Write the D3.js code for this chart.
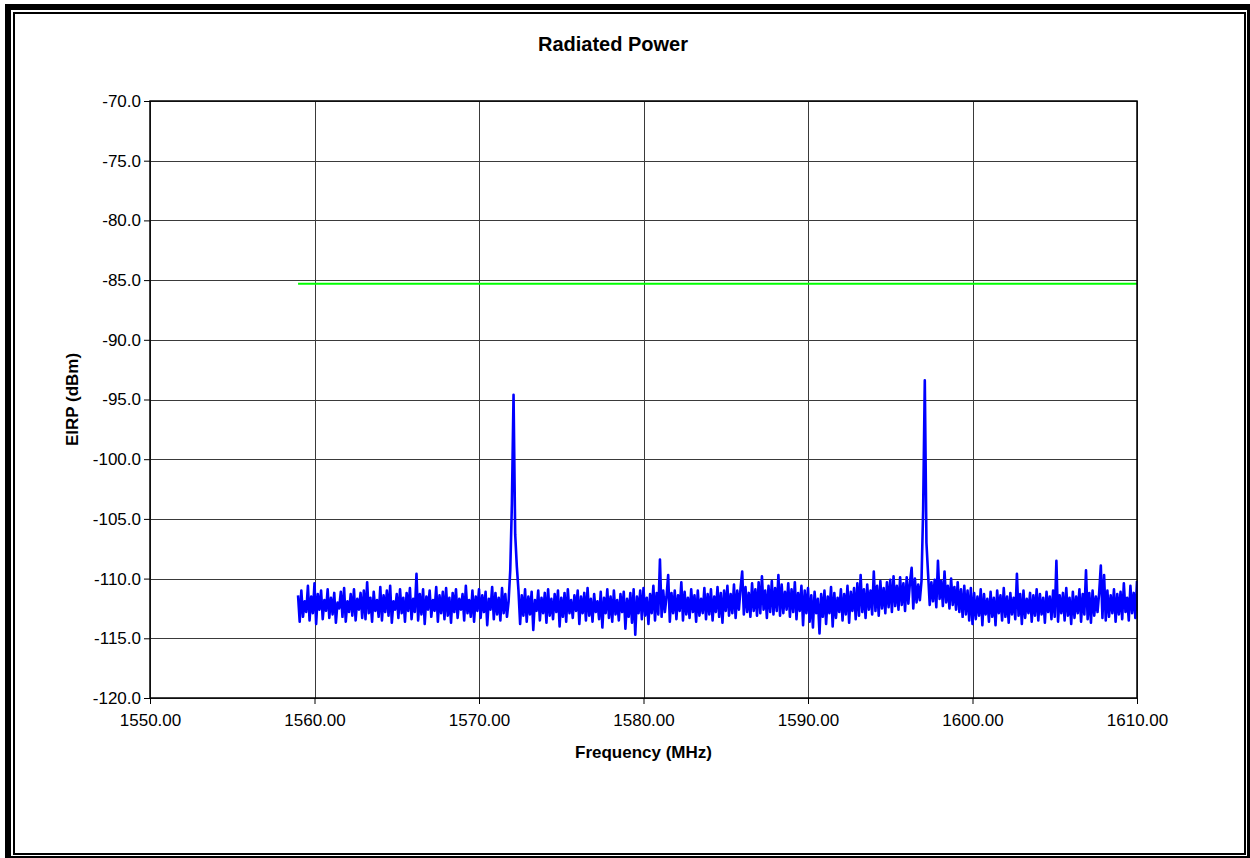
<!DOCTYPE html>
<meta charset="utf-8">
<style>
    html,
    body {
        margin: 0;
        padding: 0;
        background: #fff;
    }

    text {
        font-family: "Liberation Sans", Arial, sans-serif;
        fill: #000;
    }

    .grid line {
        stroke: #3a3a3a;
        stroke-width: 1;
    }
</style>
<svg id="canvas" width="1250" height="858"></svg>
<script src="https://cdn.jsdelivr.net/npm/d3@7/dist/d3.min.js"></script>
<script>
    // axis ticks
    const xTicks = [1550, 1560, 1570, 1580, 1590, 1600, 1610];
    const yTicks = [-70, -75, -80, -85, -90, -95, -100, -105, -110, -115, -120];

    // limit line (green)
    const limitFreqMHz = [1559.0, 1610.0];
    const limitDbm = [-85.3, -85.3];

    // measured trace (blue), one value every 0.1 MHz starting at 1559.0 MHz
    const sweepStartMHz = 1559.0;
    const sweepStepMHz = 0.1;
    const eirpDbm = [
        -111.4, -113.6, -111.0, -113.2, -111.9, -112.8, -110.6, -113.5, -111.5, -112.9,
        -110.4, -113.8, -111.3, -112.6, -111.0, -113.4, -111.8, -112.7, -110.9, -113.3,
        -111.6, -113.0, -111.2, -113.7, -112.0, -112.5, -111.1, -113.2, -110.8, -113.6,
        -111.9, -112.8, -111.3, -113.1, -110.9, -113.5, -111.7, -112.6, -111.2, -113.3,
        -111.0, -113.4, -110.3, -112.9, -111.6, -113.6, -111.1, -112.7, -111.8, -113.2,
        -110.7, -113.5, -111.4, -112.8, -111.0, -113.1, -110.6, -113.7, -111.9, -112.6,
        -111.3, -113.3, -110.9, -112.9, -111.6, -113.6, -111.2, -112.7, -110.8, -113.4,
        -111.7, -112.8, -109.6, -113.5, -111.3, -113.0, -110.9, -113.8, -111.5, -112.6,
        -111.0, -113.2, -111.8, -112.7, -110.7, -113.6, -111.4, -112.9, -111.1, -113.4,
        -110.8, -113.1, -111.6, -113.7, -111.2, -112.8, -110.9, -113.3, -111.7, -112.6,
        -111.3, -113.5, -110.6, -112.9, -111.8, -113.2, -111.0, -113.6, -111.5, -112.7,
        -110.9, -113.3, -111.4, -112.8, -111.1, -113.9, -111.7, -112.6, -110.7, -113.4,
        -111.2, -113.0, -111.6, -113.5, -110.8, -112.9, -111.3, -113.2, -111.9, -109.3,
        -103.7, -94.6, -106.3, -109.0, -111.0, -113.8, -111.4, -113.1, -110.9, -113.6,
        -111.5, -113.0, -111.1, -114.3, -111.8, -112.7, -111.0, -113.5, -111.6, -112.9,
        -111.2, -113.7, -110.9, -113.1, -111.7, -113.4, -111.3, -112.8, -111.0, -114.0,
        -111.6, -113.2, -111.2, -113.6, -110.9, -112.9, -111.8, -113.3, -111.4, -112.7,
        -111.0, -113.8, -111.5, -112.9, -111.2, -113.5, -110.8, -113.1, -111.7, -113.6,
        -111.3, -112.8, -111.9, -113.4, -111.1, -114.1, -111.6, -112.9, -110.9, -113.3,
        -111.5, -113.6, -111.0, -113.0, -111.8, -113.5, -111.3, -112.8, -111.1, -114.2,
        -111.7, -113.2, -111.2, -113.7, -110.9, -114.7, -111.5, -112.9, -111.0, -113.4,
        -110.8, -113.1, -111.6, -113.8, -111.3, -112.9, -110.6, -113.5, -111.2, -113.0,
        -108.4, -113.2, -111.0, -112.8, -111.5, -109.7, -113.6, -111.2, -112.9, -111.0,
        -113.4, -111.4, -112.7, -110.3, -113.5, -111.1, -113.0, -111.6, -113.3, -110.9,
        -112.8, -111.4, -113.6, -111.0, -113.1, -111.7, -112.9, -110.8, -113.4, -111.3,
        -113.0, -110.9, -113.5, -111.5, -112.8, -110.7, -113.2, -111.2, -113.7, -111.0,
        -112.7, -110.6, -113.1, -111.3, -112.9, -110.5, -113.3, -111.0, -112.6, -110.8,
        -109.4, -113.0, -110.7, -112.8, -111.2, -113.2, -110.4, -112.7, -110.9, -113.1,
        -110.3, -112.9, -109.8, -112.6, -111.0, -113.3, -110.6, -112.8, -110.2, -113.0,
        -110.8, -112.7, -109.7, -113.1, -110.5, -112.9, -111.1, -112.6, -110.4, -113.2,
        -110.9, -112.8, -110.3, -113.4, -111.2, -112.7, -110.6, -113.9, -111.0, -112.9,
        -110.8, -113.6, -111.4, -114.1, -111.1, -112.9, -111.7, -114.6, -111.3, -113.2,
        -111.0, -113.8, -111.5, -112.9, -110.7, -114.0, -111.2, -113.3, -111.6, -112.8,
        -110.9, -113.5, -111.3, -113.0, -110.6, -113.7, -111.1, -112.7, -110.8, -113.4,
        -110.4, -113.1, -109.7, -112.8, -110.9, -113.3, -110.5, -112.6, -111.0, -113.0,
        -109.4, -112.7, -110.6, -113.1, -110.2, -112.5, -110.8, -112.9, -110.3, -112.4,
        -110.1, -112.8, -109.8, -112.3, -110.6, -112.6, -109.9, -112.2, -110.4, -112.7,
        -109.9, -112.1, -110.3, -109.1, -112.5, -110.0, -112.0, -110.5, -111.8, -110.2,
        -104.2, -93.4, -107.0, -109.6, -112.2, -110.3, -111.9, -110.1, -112.4, -108.5,
        -111.7, -110.2, -112.3, -109.4, -112.0, -110.6, -112.5, -110.0, -112.2, -110.7,
        -112.6, -110.3, -112.8, -110.9, -113.2, -110.6, -113.0, -111.0, -113.5, -110.8,
        -113.8, -111.2, -113.4, -111.5, -113.1, -110.9, -113.9, -111.3, -113.0, -111.7,
        -113.6, -111.1, -113.2, -111.6, -113.9, -111.0, -112.9, -111.4, -113.5, -110.8,
        -113.2, -111.5, -113.7, -111.2, -113.0, -111.6, -113.4, -109.6, -113.1, -111.3,
        -113.8, -111.0, -113.3, -111.7, -112.9, -111.2, -113.6, -111.4, -113.1, -110.9,
        -113.5, -111.3, -113.0, -111.6, -113.7, -111.1, -112.8, -111.5, -113.4, -111.0,
        -113.2, -108.5, -113.6, -111.4, -112.9, -111.2, -113.5, -110.8, -113.1, -111.6,
        -113.8, -111.1, -113.3, -111.5, -112.9, -110.9, -113.6, -111.3, -113.0, -109.3,
        -113.4, -111.2, -113.7, -111.0, -113.1, -111.5, -112.8, -111.2, -108.9, -113.3,
        -109.7, -113.5, -111.0, -113.2, -111.4, -112.9, -110.9, -113.6, -111.3, -113.0,
        -111.1, -113.4, -110.4, -112.8, -111.6, -113.5, -110.6, -112.9, -111.2, -113.3,
        -110.2
    ];

    var svg = d3.select("svg");

    var plot = { left: 150, top: 101, right: 1137, bottom: 698 };

    var x = d3.scaleLinear().domain([1550, 1610]).range([plot.left, plot.right]);
    var y = d3.scaleLinear().domain([-120, -70]).range([plot.bottom, plot.top]);

    //double frame round the whole picture
    svg.append("rect")
        .attr("x", 8).attr("y", 7)
        .attr("width", 1242).attr("height", 852)
        .attr("fill", "none").attr("stroke", "#000").attr("stroke-width", 6);
    svg.append("rect")
        .attr("x", 14).attr("y", 13)
        .attr("width", 1231).attr("height", 841)
        .attr("fill", "none").attr("stroke", "#000").attr("stroke-width", 2);

    //title
    svg.append("text")
        .attr("x", 613).attr("y", 51)
        .attr("text-anchor", "middle")
        .style("font-size", "20px").style("font-weight", "bold")
        .text("Radiated Power");

    //grid
    var grid = svg.append("g").attr("class", "grid");
    grid.selectAll(".h").data(yTicks).enter().append("line")
        .attr("x1", plot.left).attr("x2", plot.right)
        .attr("y1", d => Math.round(y(d)) + 0.5).attr("y2", d => Math.round(y(d)) + 0.5);
    grid.selectAll(".v").data(xTicks).enter().append("line")
        .attr("y1", plot.top).attr("y2", plot.bottom)
        .attr("x1", d => Math.round(x(d)) + 0.5).attr("x2", d => Math.round(x(d)) + 0.5);

    svg.append("clipPath").attr("id", "plotclip").append("rect")
        .attr("x", plot.left).attr("y", plot.top)
        .attr("width", plot.right - plot.left + 1).attr("height", plot.bottom - plot.top);

    var series = svg.append("g").attr("clip-path", "url(#plotclip)");

    //limit line
    series.append("path")
        .datum(limitFreqMHz.map((f, i) => [f, limitDbm[i]]))
        .attr("fill", "none")
        .attr("stroke", "#00ff00")
        .attr("stroke-width", 2)
        .attr("d", d3.line().x(d => x(d[0])).y(d => y(d[1])));

    //measured trace
    series.append("path")
        .datum(eirpDbm.map((v, i) => [sweepStartMHz + i * sweepStepMHz, v]))
        .attr("fill", "none")
        .attr("stroke", "#0000ff")
        .attr("stroke-width", 2.6)
        .attr("stroke-linejoin", "round")
        .attr("d", d3.line().x(d => x(d[0])).y(d => y(d[1])));

    //axes
    var xAxis = d3.axisBottom(x).tickValues(xTicks).tickSize(6).tickPadding(10)
        .tickFormat(d => d.toFixed(2));
    var yAxis = d3.axisLeft(y).tickValues(yTicks).tickSize(6).tickPadding(3)
        .tickFormat(d => d.toFixed(1));

    var gx = svg.append("g").attr("transform", `translate(0,${plot.bottom})`).call(xAxis);
    var gy = svg.append("g").attr("transform", `translate(${plot.left},0)`).call(yAxis);

    [gx, gy].forEach(function(g) {
        g.select(".domain").remove();
        g.selectAll(".tick line").attr("stroke", "#000");
        g.selectAll(".tick text")
            .style("font-size", "17px")
            .style("font-family", "'Liberation Sans', Arial, sans-serif")
            .attr("fill", "#000");
    });

    //plot frame
    svg.append("rect")
        .attr("x", plot.left).attr("y", plot.top)
        .attr("width", plot.right - plot.left).attr("height", plot.bottom - plot.top)
        .attr("fill", "none").attr("stroke", "#000").attr("stroke-width", 1.5);

    //axis titles
    svg.append("text")
        .attr("x", (plot.left + plot.right) / 2).attr("y", 758)
        .attr("text-anchor", "middle")
        .style("font-size", "17px").style("font-weight", "bold")
        .text("Frequency (MHz)");

    svg.append("text")
        .attr("transform", `translate(78,${(plot.top + plot.bottom) / 2}) rotate(-90)`)
        .attr("text-anchor", "middle")
        .style("font-size", "17px").style("font-weight", "bold")
        .text("EIRP (dBm)");
</script>
